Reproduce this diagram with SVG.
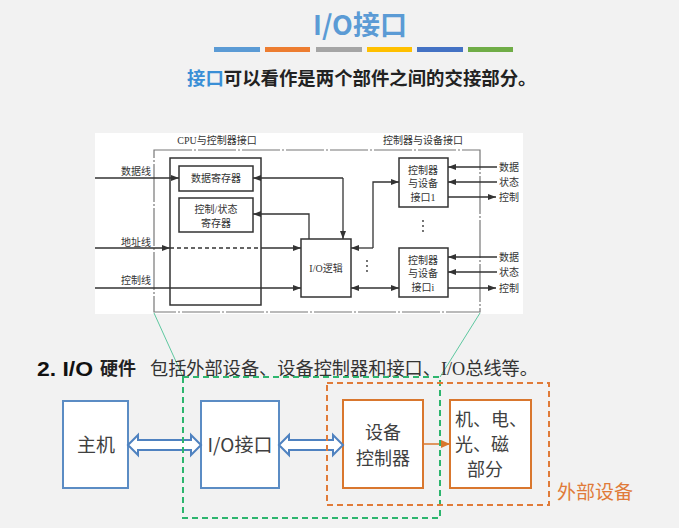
<svg xmlns="http://www.w3.org/2000/svg" width="679" height="528" viewBox="0 0 679 528">
<defs>
<style>
.pl{stroke:#333;stroke-width:1.3;fill:none}
.pb{stroke:#333;stroke-width:1.5;fill:#fff}
.pt{font-family:"Liberation Serif","Noto Sans CJK SC",serif;font-size:10px;fill:#333}
.ptm{font-family:"Liberation Serif","Noto Sans CJK SC",serif;font-size:10px;fill:#333;text-anchor:middle}
.big{font-family:"Noto Sans CJK SC",sans-serif;font-size:19px;fill:#404040}
.mid{font-family:"Noto Sans CJK SC",sans-serif;font-size:18px;fill:#404040}
.bbox{fill:#fff;stroke:#5b8cc4;stroke-width:2}
.obox{fill:#fff;stroke:#d9772e;stroke-width:2}
.dbl{fill:#fff;stroke:#4f82c0;stroke-width:2;stroke-linejoin:miter}
</style>
<marker id="ah" markerWidth="8" markerHeight="6" refX="8" refY="3" orient="auto-start-reverse" markerUnits="userSpaceOnUse">
<path d="M0,0 L8,3 L0,6 z" fill="#333"/>
</marker>
<marker id="oh" markerWidth="9" markerHeight="8" refX="9" refY="4" orient="auto" markerUnits="userSpaceOnUse">
<path d="M0,0 L9,4 L0,8 z" fill="#d9772e"/>
</marker>
</defs>
<rect width="679" height="528" fill="#f2f2f2"/>
<text x="360" y="35" text-anchor="middle" font-family="Noto Sans CJK SC,sans-serif" font-size="27" font-weight="bold" fill="#5b9bd5">I/O接口</text>
<g id="bars">
<rect x="214" y="47" width="46" height="5" fill="#5b9bd5"/>
<rect x="265" y="47" width="45" height="5" fill="#ed7d31"/>
<rect x="316" y="47" width="46" height="5" fill="#a5a5a5"/>
<rect x="367" y="47" width="45" height="5" fill="#ffc000"/>
<rect x="417" y="47" width="46" height="5" fill="#4472c4"/>
<rect x="468" y="47" width="45" height="5" fill="#70ad47"/>
</g>
<text x="187" y="85" font-family="Noto Sans CJK SC,sans-serif" font-size="18.4" font-weight="bold" fill="#222"><tspan fill="#3a8fd6">接口</tspan>可以看作是两个部件之间的交接部分。</text>

<g id="panel">
<rect x="95" y="133" width="428" height="181" fill="#fff"/>
<rect x="154" y="150" width="326" height="162" fill="none" stroke="#777" stroke-width="1.2" stroke-dasharray="38 2 2 2"/>
<text class="ptm" x="217" y="144">CPU与控制器接口</text>
<text class="ptm" x="423" y="144">控制器与设备接口</text>
<text class="pt" x="151" y="175" text-anchor="end">数据线</text>
<text class="pt" x="151" y="246" text-anchor="end">地址线</text>
<text class="pt" x="151" y="284" text-anchor="end">控制线</text>
<g id="cpu-box"><rect class="pb" x="170" y="158" width="91" height="147"/></g>
<g id="data-reg"><rect class="pb" x="179" y="166" width="74" height="25"/><text class="ptm" x="216" y="182">数据寄存器</text></g>
<g id="ctrl-reg"><rect class="pb" x="179" y="198" width="74" height="34"/><text class="ptm" x="216" y="213">控制/状态</text><text class="ptm" x="216" y="227">寄存器</text></g>
<g id="io-logic"><rect class="pb" x="301" y="239" width="50" height="58"/><text class="ptm" x="326" y="272">I/O逻辑</text></g>
<g id="ctrl1"><rect class="pb" x="399" y="158" width="49" height="49"/><text class="ptm" x="423" y="174">控制器</text><text class="ptm" x="423" y="187">与设备</text><text class="ptm" x="423" y="201">接口1</text></g>
<g id="ctrli"><rect class="pb" x="399" y="248" width="49" height="49"/><text class="ptm" x="423" y="264">控制器</text><text class="ptm" x="423" y="277">与设备</text><text class="ptm" x="423" y="291">接口i</text></g>
<g id="panel-connectors">
<path class="pl" d="M95,178 H179" marker-end="url(#ah)"/>
<path class="pl" d="M95,248 H170" marker-end="url(#ah)"/>
<path class="pl" d="M170,248 H261" stroke-dasharray="4 3"/>
<path class="pl" d="M261,248 H301" marker-end="url(#ah)"/>
<path class="pl" d="M95,288 H301" marker-end="url(#ah)"/>
<path class="pl" d="M343,178 H253" marker-end="url(#ah)"/>
<path class="pl" d="M343,178 V239" marker-end="url(#ah)"/>
<path class="pl" d="M309,239 V214 H253" marker-end="url(#ah)"/>
<path class="pl" d="M373,248 H351" marker-end="url(#ah)"/>
<path class="pl" d="M373,248 V182 H399" marker-end="url(#ah)"/>
<path class="pl" d="M351,288 H399" marker-start="url(#ah)" marker-end="url(#ah)"/>
<path class="pl" d="M497,167 H448" marker-end="url(#ah)"/>
<path class="pl" d="M497,182 H448" marker-end="url(#ah)"/>
<path class="pl" d="M448,197 H496" marker-end="url(#ah)"/>
<path class="pl" d="M497,257 H448" marker-end="url(#ah)"/>
<path class="pl" d="M497,272 H448" marker-end="url(#ah)"/>
<path class="pl" d="M448,288 H496" marker-end="url(#ah)"/>
</g>
<g fill="#333">
<circle cx="423" cy="221" r="0.9"/><circle cx="423" cy="226" r="0.9"/><circle cx="423" cy="231" r="0.9"/>
<circle cx="367" cy="261" r="0.9"/><circle cx="367" cy="266" r="0.9"/><circle cx="367" cy="271" r="0.9"/>
</g>
<text class="pt" x="499" y="171">数据</text>
<text class="pt" x="499" y="186">状态</text>
<text class="pt" x="499" y="201">控制</text>
<text class="pt" x="499" y="261">数据</text>
<text class="pt" x="499" y="276">状态</text>
<text class="pt" x="499" y="292">控制</text>
</g>

<g id="zoom-lines" stroke="#5ec8a0" stroke-width="1">
<line x1="154" y1="313" x2="183" y2="377"/>
<line x1="480" y1="313" x2="440" y2="377"/>
</g>

<text x="37" y="376" font-family="Liberation Sans,sans-serif" font-size="20" font-weight="bold" fill="#111" textLength="56" lengthAdjust="spacingAndGlyphs">2. I/O</text>
<text x="100" y="375" font-family="Noto Sans CJK SC,sans-serif" font-size="18" font-weight="bold" fill="#222">硬件</text>
<text x="150" y="375" font-family="Liberation Serif,Noto Sans CJK SC,serif" font-size="18" fill="#333" textLength="388" lengthAdjust="spacingAndGlyphs">包括外部设备、设备控制器和接口、I/O总线等。</text>

<g id="host"><rect class="bbox" x="63" y="401" width="65" height="87"/><text class="big" x="96" y="452" text-anchor="middle">主机</text></g>
<g id="io-if"><rect class="bbox" x="201" y="401" width="78" height="87"/><text class="big" x="240" y="452" text-anchor="middle">I/O接口</text></g>
<g id="dev-ctrl"><rect class="obox" x="343" y="400" width="80" height="88"/><text class="mid" x="383" y="439" text-anchor="middle">设备</text><text class="mid" x="383" y="465" text-anchor="middle">控制器</text></g>
<g id="devices"><rect class="obox" x="450" y="400" width="81" height="88"/><text class="mid" x="455" y="426">机、电、</text><text class="mid" x="455" y="451">光、磁</text><text class="mid" x="467" y="476">部分</text></g>

<g id="connectors">
<path class="dbl" d="M128,445 L138,435 L138,440 L191,440 L191,435 L201,445 L191,455 L191,450 L138,450 L138,455 Z"/>
<path class="dbl" d="M279,445 L289,435 L289,440 L333,440 L333,435 L343,445 L333,455 L333,450 L289,450 L289,455 Z"/>
<path d="M423,444 H450" stroke="#d9772e" stroke-width="1.5" fill="none" marker-end="url(#oh)"/>
</g>

<g id="groups" fill="none" stroke-width="2" stroke-dasharray="6 4">
<rect x="183" y="377" width="257" height="141" stroke="#2db56e"/>
<rect x="327" y="383" width="222" height="122" stroke="#e07b39"/>
</g>
<text x="557" y="499" font-family="Noto Sans CJK SC,sans-serif" font-size="19" fill="#e07b39">外部设备</text>
</svg>
